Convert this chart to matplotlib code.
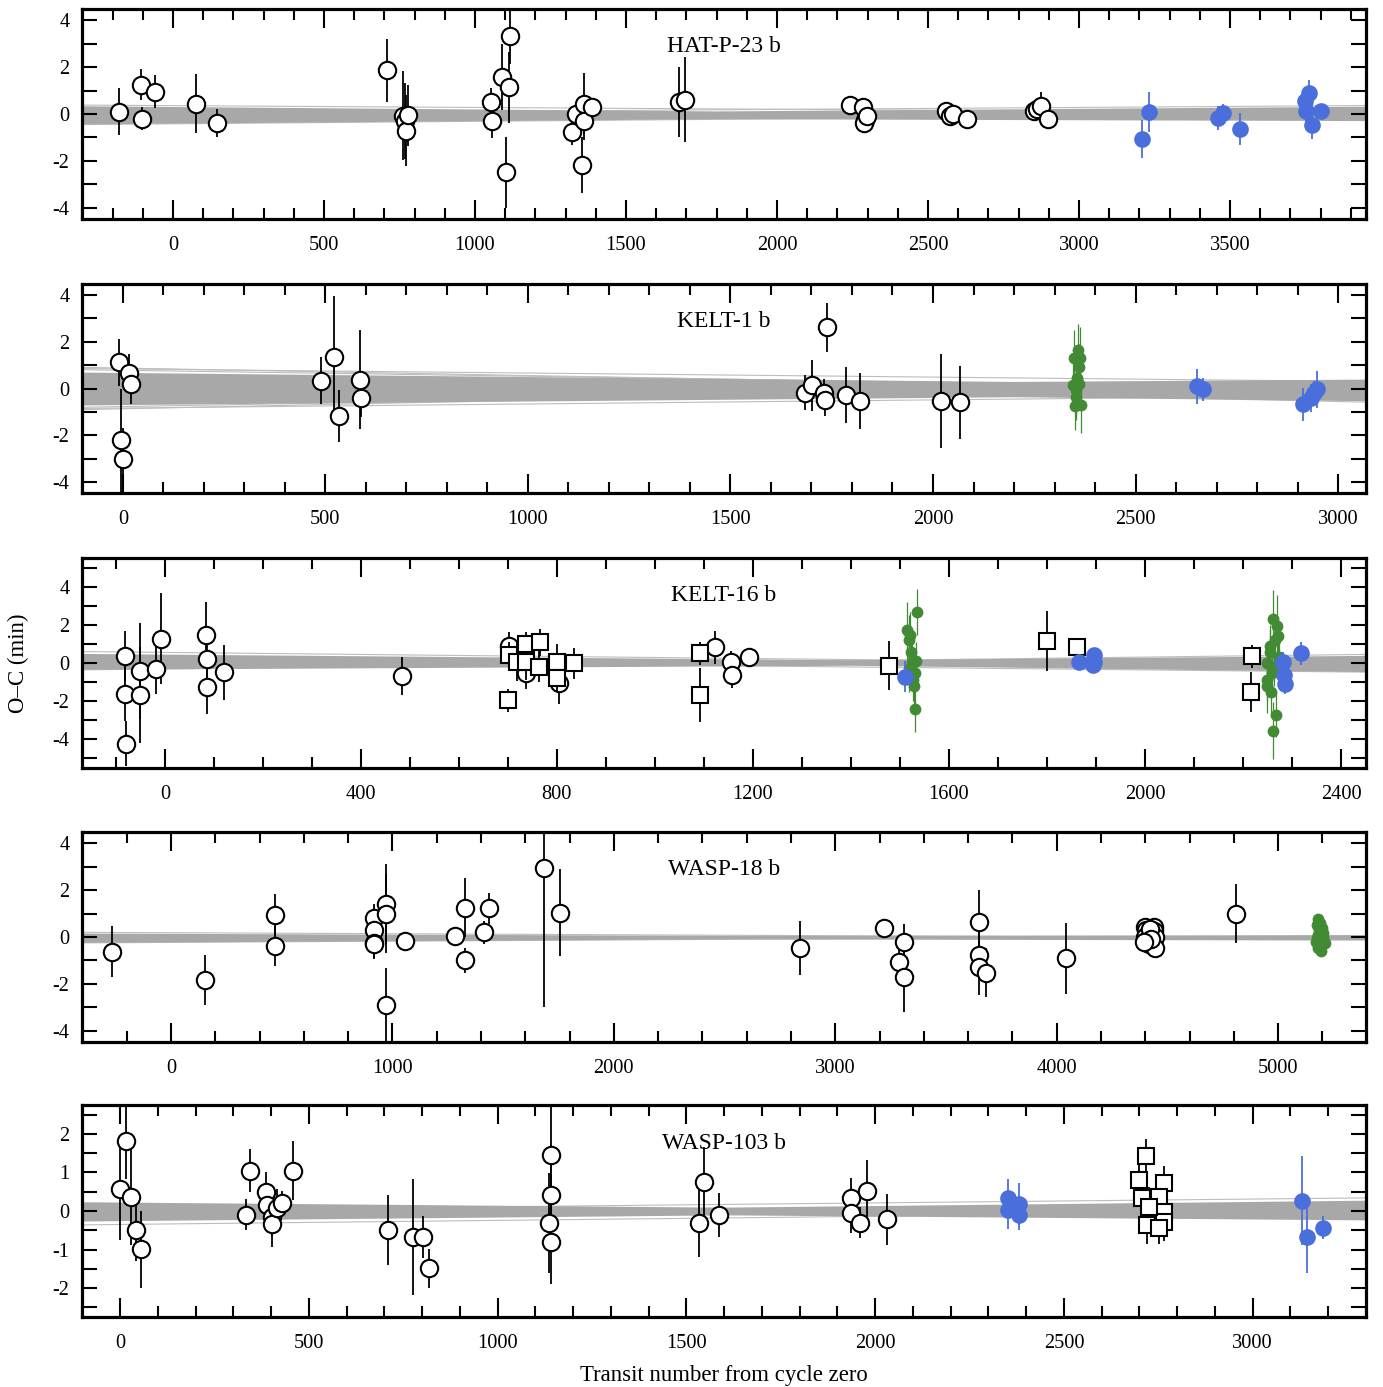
import matplotlib
matplotlib.use('Agg')
import matplotlib.pyplot as plt
from matplotlib.ticker import MultipleLocator

plt.rcParams['font.family'] = ['Liberation Serif', 'DejaVu Serif']
plt.rcParams['axes.unicode_minus'] = False

# ---- data: (transit number, O-C in min, error) ----
names = ['HAT-P-23 b', 'KELT-1 b', 'KELT-16 b', 'WASP-18 b', 'WASP-103 b']

hat_circ = [(-178, 0.09, 1.0), (-105, 1.25, 0.65), (-101, -0.2, 0.5), (-60, 0.94, 0.7),
            (76, 0.44, 1.25), (145, -0.4, 0.6), (710, 1.86, 1.35), (762, -0.07, 1.9),
            (770, -0.3, 1.6), (773, -0.71, 1.5), (778, -0.06, 1.3), (1053, 0.51, 0.6),
            (1055, -0.31, 0.7), (1090, 1.56, 1.4), (1104, -2.49, 1.5), (1112, 1.13, 1.5),
            (1117, 3.33, 1.2), (1322, -0.78, 0.55), (1336, 0.0, 0.5), (1356, -2.16, 1.2),
            (1360, 0.44, 1.3), (1360, -0.31, 0.8), (1386, 0.28, 0.4), (1677, 0.51, 1.5),
            (1694, 0.61, 1.8), (2240, 0.4, 0.25), (2285, 0.28, 0.35), (2290, -0.25, 0.3),
            (2288, -0.38, 0.3), (2298, -0.08, 0.3), (2560, 0.13, 0.2), (2573, -0.09, 0.25),
            (2583, 0.0, 0.2), (2629, -0.21, 0.4), (2850, 0.13, 0.3), (2860, 0.21, 0.4),
            (2874, 0.34, 0.6), (2897, -0.21, 0.35)]
hat_sq = []
hat_blue = [(3209, -1.07, 0.8), (3231, 0.07, 0.85), (3460, -0.17, 0.5), (3477, 0.04, 0.4),
            (3533, -0.64, 0.7), (3748, 0.54, 0.4), (3762, 0.9, 0.55), (3752, 0.11, 0.5),
            (3772, -0.45, 0.6), (3801, 0.14, 0.3)]
hat_green = []

k1_circ = [(-9, 1.12, 1.0), (15, 0.67, 0.8), (19, 0.2, 0.85), (-4, -2.21, 2.2), (1, -2.99, 1.3),
           (489, 0.34, 1.0), (520, 1.35, 2.6), (533, -1.18, 1.1), (585, 0.38, 2.1),
           (587, -0.41, 0.8), (1684, -0.18, 0.75), (1701, 0.13, 1.1), (1730, -0.18, 0.6),
           (1733, -0.5, 0.65), (1738, 2.61, 1.05), (1784, -0.27, 1.2), (1820, -0.54, 1.2),
           (2019, -0.54, 2.0), (2067, -0.58, 1.55)]
k1_sq = []
k1_blue = [(2651, 0.1, 0.75), (2667, -0.04, 0.5), (2913, -0.68, 0.7), (2933, -0.4, 0.6),
           (2947, -0.04, 0.8), (2940, -0.2, 0.5)]
k1_green = [(2348, 1.3, 1.2), (2358, 1.65, 1.1), (2360, 0.9, 1.0), (2356, 0.45, 1.0),
            (2345, 0.15, 1.0), (2352, -0.05, 1.1), (2354, -0.35, 1.0), (2350, -0.75, 1.0),
            (2362, 1.3, 1.3), (2365, -0.7, 1.2), (2361, 0.2, 0.9)]

k16_circ = [(-82, 0.36, 1.3), (-82, -1.63, 1.4), (-80, -4.22, 1.2), (-51, -0.42, 2.5),
            (-51, -1.67, 2.5), (-17, -0.31, 1.3), (-7, 1.28, 2.4), (85, 1.49, 1.7),
            (87, 0.19, 1.0), (87, -1.28, 1.4), (121, -0.49, 1.45), (483, -0.68, 1.0),
            (702, 0.9, 0.7), (736, -0.54, 0.8), (805, -1.06, 1.1), (1122, 0.82, 0.85),
            (1155, 0.03, 0.6), (1158, -0.63, 0.7), (1192, 0.3, 0.5)]
k16_sq = [(700, -1.96, 0.6), (702, 0.42, 0.7), (718, 0.07, 1.0), (736, 1.02, 0.6),
          (736, 0.03, 0.9), (763, -0.19, 0.8), (766, 1.08, 0.7), (800, 0.07, 0.9),
          (800, -0.8, 0.7), (835, -0.02, 0.8), (1092, 0.5, 0.6), (1092, -1.67, 1.4),
          (1477, -0.14, 1.3), (1800, 1.15, 1.55), (1861, 0.85, 0.2), (2218, 0.36, 0.6),
          (2217, -1.53, 1.05)]
k16_blue = [(1510, -0.71, 0.8), (1866, 0.07, 0.4), (1896, 0.42, 0.3), (1896, 0.07, 0.4),
            (1894, -0.1, 0.3), (2282, 0.07, 0.5), (2283, -0.63, 0.5), (2285, -1.1, 0.5),
            (2318, 0.5, 0.6)]
k16_green = [(1515, 1.72, 1.5), (1520, 1.46, 1.2), (1518, 1.2, 1.3), (1535, 2.67, 1.2),
             (1525, 0.07, 1.0), (1530, -0.54, 1.0), (1528, -1.23, 1.0), (1530, -2.41, 1.2),
             (1522, 0.6, 0.9), (1533, 0.1, 1.0), (1526, -0.9, 1.1), (1519, -0.3, 1.2),
             (2262, 2.33, 1.5), (2270, 1.94, 1.6), (2265, 1.2, 1.3), (2255, 0.6, 1.2),
             (2250, 0.0, 1.0), (2260, -0.5, 1.2), (2248, -1.2, 1.4), (2258, -1.5, 1.3),
             (2268, -2.7, 1.2), (2262, -3.54, 1.5), (2272, 1.4, 1.0), (2256, 0.9, 1.1),
             (2264, -0.2, 1.0), (2250, -0.9, 1.1), (2274, 0.3, 1.2)]

w18_circ = [(-267, -0.62, 1.1), (154, -1.83, 1.05), (470, 0.94, 0.9), (470, -0.37, 0.85),
            (915, 0.79, 0.6), (915, 0.3, 0.6), (915, -0.24, 0.7), (918, -0.3, 0.6),
            (969, 1.4, 1.7), (969, 1.0, 1.7), (969, -2.9, 1.6), (1059, -0.16, 0.25),
            (1283, 0.04, 0.3), (1327, 1.25, 1.25), (1327, -1.0, 0.55), (1414, 0.2, 0.5),
            (1434, 1.22, 0.65), (1686, 2.92, 5.9), (1757, 1.04, 1.86), (2840, -0.48, 1.15),
            (3222, 0.4, 0.3), (3310, -0.2, 0.75), (3290, -1.05, 0.5), (3310, -1.69, 1.5),
            (3649, 0.65, 1.35), (3649, -0.77, 1.0), (3649, -1.26, 1.2), (3681, -1.52, 1.05),
            (4041, -0.91, 1.5), (4400, 0.44, 0.15), (4405, 0.3, 0.15), (4410, 0.1, 0.15),
            (4400, 0.0, 0.15), (4408, -0.14, 0.15), (4415, -0.3, 0.15), (4440, 0.44, 0.15),
            (4440, 0.25, 0.15), (4442, 0.0, 0.15), (4445, -0.48, 0.15), (4420, 0.35, 0.15),
            (4425, -0.1, 0.15), (4395, -0.2, 0.15), (4812, 1.0, 1.25)]
w18_sq = []
w18_blue = []
w18_green = [(5180, 0.75, 0.1), (5190, 0.6, 0.1), (5175, 0.5, 0.1), (5200, 0.4, 0.1),
             (5185, 0.3, 0.1), (5195, 0.2, 0.1), (5178, 0.1, 0.1), (5205, 0.0, 0.1),
             (5188, -0.1, 0.1), (5172, -0.2, 0.1), (5198, -0.3, 0.1), (5182, -0.45, 0.1),
             (5192, -0.6, 0.1), (5202, 0.15, 0.1), (5176, -0.05, 0.1), (5210, -0.25, 0.1),
             (5186, 0.45, 0.1)]

w103_circ = [(0, 0.56, 1.3), (15, 1.82, 1.0), (28, 0.36, 1.24), (42, -0.49, 0.8),
             (54, -0.99, 1.0), (333, -0.1, 0.4), (344, 1.05, 0.55), (386, 0.5, 0.5),
             (390, 0.16, 0.4), (401, -0.15, 0.5), (401, -0.34, 0.6), (416, 0.07, 0.5),
             (430, 0.22, 0.3), (457, 1.05, 0.77), (709, -0.49, 0.9), (776, -0.67, 1.5),
             (801, -0.67, 0.55), (817, -1.49, 0.5), (1142, 1.45, 1.3), (1142, 0.42, 1.3),
             (1136, -0.32, 1.3), (1142, -0.8, 1.1), (1547, 0.76, 0.9), (1533, -0.3, 0.9),
             (1585, -0.1, 0.57), (1936, 0.35, 0.5), (1936, -0.06, 0.5), (1961, -0.3, 0.4),
             (1978, 0.53, 0.8), (2032, -0.22, 0.65)]
w103_sq = [(2716, 1.43, 0.45), (2699, 0.8, 0.5), (2707, 0.33, 0.5), (2765, 0.72, 0.45),
           (2753, 0.37, 0.5), (2720, -0.36, 0.5), (2766, -0.02, 0.5), (2766, -0.28, 0.5),
           (2753, -0.45, 0.4), (2725, 0.11, 0.5)]
w103_blue = [(2352, 0.33, 0.5), (2352, 0.03, 0.5), (2380, 0.18, 0.55), (2380, -0.1, 0.4),
             (3130, 0.27, 1.15), (3143, -0.67, 0.95), (3186, -0.43, 0.3)]
w103_green = []

# ephemeris band: x, upper, lower ; plus a few stray sample lines (y at left, y at right)
band_x = [[-301, 1800, 3950], [-101, 2200, 3069], [-169, 1400, 2451], [-402, 2500, 5397], [-101, 1600, 3300]]
band_hi = [[0.35, 0.13, 0.33], [0.7, 0.3, 0.4], [0.5, 0.17, 0.4], [0.17, 0.07, 0.1], [0.24, 0.1, 0.28]]
band_lo = [[-0.42, -0.2, -0.28], [-0.7, -0.35, -0.52], [-0.33, -0.12, -0.45], [-0.23, -0.08, -0.13], [-0.26, -0.1, -0.23]]
stray = [[(0.38, 0.05), (-0.45, 0.0), (0.0, 0.36)],
         [(0.9, -0.1), (-0.9, 0.25), (0.6, -0.58), (0.8, 0.0), (-0.8, 0.15), (0.85, 0.3), (-0.85, -0.3)],
         [(0.6, -0.1), (-0.36, 0.45), (0.2, -0.48)],
         [(0.2, -0.05), (-0.25, 0.05)],
         [(-0.36, 0.0), (0.0, 0.34)]]

xlims = [(-301, 3950), (-101, 3069), (-169, 2451), (-402, 5397), (-101, 3300)]
ylims = [(-4.47, 4.47), (-4.45, 4.45), (-5.5, 5.5), (-4.47, 4.47), (-2.75, 2.75)]
xmaj = [500, 500, 400, 1000, 500]
xmin = [100, 100, 100, 200, 100]
ymaj = [2, 2, 2, 2, 1]
ymin = [1, 1, 1, 1, 0.5]

circ = [hat_circ, k1_circ, k16_circ, w18_circ, w103_circ]
sq = [hat_sq, k1_sq, k16_sq, w18_sq, w103_sq]
blue = [hat_blue, k1_blue, k16_blue, w18_blue, w103_blue]
green = [hat_green, k1_green, k16_green, w18_green, w103_green]

# panel boxes in pixels (top, bottom)
W, H = 1383, 1387
boxes = [(9, 219), (284, 493), (558, 768), (832, 1042), (1105, 1317)]

fig = plt.figure(figsize=(W / 100, H / 100), dpi=100)

BLUE = '#4a6fdc'
GREEN = '#428a33'


def plot_set(ax, pts, marker, face, ecol, ms, elw, mew, z):
    if not pts:
        return
    xs = [p[0] for p in pts]
    ys = [p[1] for p in pts]
    es = [p[2] for p in pts]
    ax.errorbar(xs, ys, yerr=es, fmt='none', ecolor=ecol, elinewidth=elw, zorder=z)
    ax.plot(xs, ys, linestyle='none', marker=marker, ms=ms, mfc=face, mec=ecol, mew=mew, zorder=z + 0.5)


for i in range(5):
    top, bot = boxes[i]
    ax = fig.add_axes([82 / W, 1 - bot / H, (1366 - 82) / W, (bot - top) / H])
    x0, x1 = xlims[i]

    ax.fill_between(band_x[i], band_lo[i], band_hi[i], color='#a8a8a8', lw=0, zorder=1)
    for yl, yr in stray[i]:
        ax.plot([x0, x1], [yl, yr], color='#bdbdbd', lw=0.8, zorder=0.9)

    plot_set(ax, circ[i], 'o', 'white', 'black', 12.5, 1.3, 1.5, 3)
    plot_set(ax, sq[i], 's', 'white', 'black', 11, 1.3, 1.5, 4)
    plot_set(ax, green[i], 'o', GREEN, GREEN, 8.5, 0.9, 0, 5)
    plot_set(ax, blue[i], 'o', BLUE, BLUE, 12, 1.3, 0, 6)

    ax.set_xlim(x0, x1)
    ax.set_ylim(*ylims[i])
    ax.xaxis.set_major_locator(MultipleLocator(xmaj[i]))
    ax.xaxis.set_minor_locator(MultipleLocator(xmin[i]))
    ax.yaxis.set_major_locator(MultipleLocator(ymaj[i]))
    ax.yaxis.set_minor_locator(MultipleLocator(ymin[i]))
    ax.tick_params(which='both', direction='in', top=True, right=True, width=1.5, labelsize=14.7)
    ax.tick_params(axis='x', which='major', length=14, pad=12)
    ax.tick_params(axis='x', which='minor', length=8)
    ax.tick_params(axis='y', which='both', length=11, pad=9)
    for s in ax.spines.values():
        s.set_linewidth(2.3)

    ax.text(0.5, 0.82, names[i], transform=ax.transAxes, ha='center', va='center', fontsize=17)

fig.text(18 / W, 1 - 663 / H, 'O–C (min)', rotation=90, ha='center', va='center', fontsize=16.5)
fig.text(724 / W, 1 - 1375 / H, 'Transit number from cycle zero', ha='center', va='center', fontsize=16.4)

plt.savefig('out.png', dpi=100)
